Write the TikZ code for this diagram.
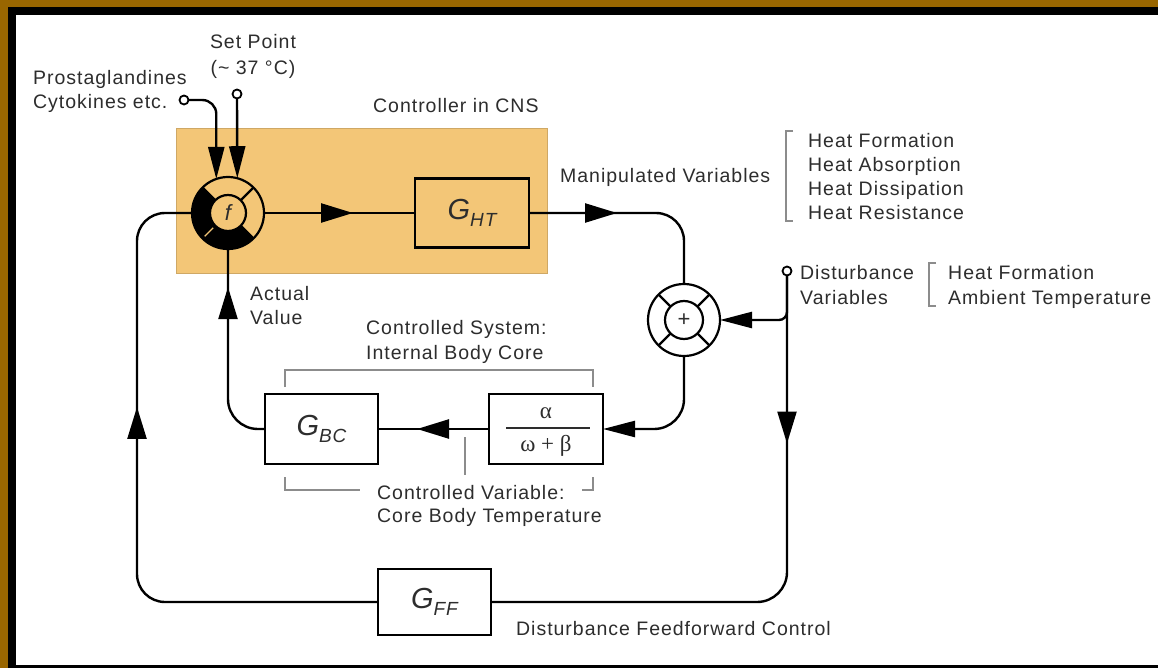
\documentclass[tikz,border=0pt]{standalone}
\usepackage{fontspec}
\setmainfont{Liberation Sans}[LetterSpace=5]
\newfontfamily\seriffam{Liberation Serif}
\usetikzlibrary{arrows.meta,decorations.markings}
\definecolor{gold}{RGB}{153,102,0}
\definecolor{ctrl}{RGB}{243,198,119}
\definecolor{txt}{RGB}{45,45,45}
\definecolor{brk}{RGB}{140,140,140}
\newcommand\Gsub[1]{{\fontsize{29}{29}\selectfont\itshape G}\raisebox{-7pt}{\fontsize{19}{19}\selectfont\itshape #1}}
\tikzset{
 conn/.style={line width=2.4pt, draw=black},
 tipend/.style={-{Triangle[length=32pt,width=16pt]}},
 midarrow/.style={postaction={decorate,decoration={markings,mark=at position #1 with {\arrow{Triangle[length=32pt,width=19pt]}}}}},
 blk/.style={draw, line width=2.4pt, minimum width=114pt, minimum height=69pt, inner sep=0, outer sep=0, text=txt},
 lbl/.style={anchor=base west, inner sep=0, text=txt, font=\fontsize{19.5}{24}\selectfont},
 clbl/.style={lbl, anchor=base},
 brk/.style={draw=brk, line width=1.2pt},
 term/.style={circle, draw, line width=1.8pt, fill=white, minimum size=9pt, inner sep=0, outer sep=0},
 mixer/.style={circle, minimum size=72pt, inner sep=0, outer sep=0},
}
\begin{document}
\begin{tikzpicture}[x=1pt,y=-1pt]
% frame
\fill[gold] (0,0) rectangle (1158,668);
\fill[black] (8,7) rectangle (1158,668);
\fill[white] (16,15) rectangle (1158,665);
\useasboundingbox (0,0) rectangle (1158,668);

% controller box
\node[fill=ctrl, draw=ctrl!85!black, line width=0.6pt, minimum width=371pt, minimum height=145pt, inner sep=0] (cns) at (361.5,200.5) {};

% mixers
\node[mixer] (f) at (228,213) {};
\begin{scope}[shift={(f.center)}]
 \fill[black] (45:36) arc[start angle=45,end angle=225,radius=36] -- (225:18) arc[start angle=225,end angle=45,radius=18] -- cycle;
 \draw[line width=2.2pt] (0,0) circle[radius=36] (0,0) circle[radius=18];
 \draw[line width=2.2pt] (-45:18) -- (-45:36) (45:18) -- (45:36) (225:18) -- (225:36);
 \draw[ctrl, line width=1.4pt] (135:21) -- (135:33);
\end{scope}
\node[text=txt, font=\fontsize{22}{22}\selectfont\itshape] (flbl) at (f.center) {f};

\node[mixer, fill=white] (plus) at (684,320) {};
\begin{scope}[shift={(plus.center)}]
 \draw[line width=2.2pt] (0,0) circle[radius=36] (0,0) circle[radius=19];
 \draw[line width=2.2pt] (-45:19) -- (-45:36) (45:19) -- (45:36) (135:19) -- (135:36) (225:19) -- (225:36);
\end{scope}
\node[text=txt, font=\fontsize{22}{22}\selectfont] (plbl) at (plus.center) {+};

% boxes
\node[blk] (ght) at (472,213) {\Gsub{HT}};
\node[blk, minimum width=113pt, minimum height=70pt] (gbc) at (321.5,429) {\Gsub{BC}};
\node[blk, minimum height=70pt] (alpha) at (546,429) {};
\node[text=txt, inner sep=0, font=\seriffam\fontsize{23}{23}\selectfont] (anum) at (546,413) {α};
\node[text=txt, inner sep=0, font=\seriffam\fontsize{23}{23}\selectfont] (aden) at (546,446) {ω + β};
\draw[line width=1.8pt, txt] (506,428) -- (590,428);
\node[blk, minimum width=113pt, minimum height=66pt, fill=white] (gff) at (434.5,602) {\Gsub{FF}};

% terminals
\node[term] (pros) at (184,100) {};
\node[term] (sp) at (237,94) {};
\node[term] (dist) at (787,271) {};
\coordinate (lc) at (137,400);

% connectors
\draw[conn, tipend, rounded corners=14pt] (pros.east) -| (f.109.5);
\draw[conn, tipend] (sp.south) -- (f.75.5);
\draw[conn, midarrow=89pt] (f.east) -- (ght.west);
\draw[conn, rounded corners=28pt, midarrow=88pt] (ght.east) -| (plus.north);
\draw[conn, tipend, rounded corners=8pt] (dist.south) |- (plus.east);
\draw[conn, rounded corners=30pt, midarrow=168pt] (dist.south) |- (gff.east);
\draw[conn, tipend, rounded corners=30pt] (plus.south) |- (alpha.east);
\draw[conn, midarrow=72pt] (alpha.west) -- (gbc.east);
\draw[conn, rounded corners=30pt, midarrow=166pt] (gbc.west) -| (f.south);
\draw[conn, rounded corners=28pt, midarrow=424pt] (gff.west) -| (lc) |- (f.west);

% brackets
\draw[brk] (793,131) -- (786,131) -- (786,221) -- (793,221);
\draw[brk] (936,263) -- (929,263) -- (929,306) -- (936,306);
\draw[brk] (285,387) -- (285,370) -- (593,370) -- (593,387);
\draw[brk] (285,477) -- (285,490) -- (360,490);
\draw[brk] (582,490) -- (593,490) -- (593,477);
\draw[brk] (465,437) -- (465,475);

% labels
\node[clbl] (t1) at (253,49) {Set Point};
\node[clbl] (t2) at (253,75) {(\textasciitilde\ 37 °C)};
\node[lbl] (t3) at (33,85) {Prostaglandines};
\node[lbl] (t4) at (33,109) {Cytokines etc.};
\node[lbl] (t5) at (373,113) {Controller in CNS};
\node[lbl] (t6) at (560,183) {Manipulated Variables};
\node[lbl] (t7) at (808,148) {Heat Formation};
\node[lbl] (t8) at (808,172) {Heat Absorption};
\node[lbl] (t9) at (808,196) {Heat Dissipation};
\node[lbl] (t10) at (808,220) {Heat Resistance};
\node[lbl] (t11) at (250,300) {Actual};
\node[lbl] (t12) at (250,324) {Value};
\node[lbl] (t13) at (800,279) {Disturbance};
\node[lbl] (t14) at (800,304) {Variables};
\node[lbl] (t15) at (948,279) {Heat Formation};
\node[lbl] (t16) at (948,304) {Ambient Temperature};
\node[lbl] (t17) at (366,334) {Controlled System:};
\node[lbl] (t18) at (366,359) {Internal Body Core};
\node[lbl] (t19) at (377,499) {Controlled Variable:};
\node[lbl] (t20) at (377,522) {Core Body Temperature};
\node[lbl] (t21) at (516,635) {Disturbance Feedforward Control};
\end{tikzpicture}
\end{document}
